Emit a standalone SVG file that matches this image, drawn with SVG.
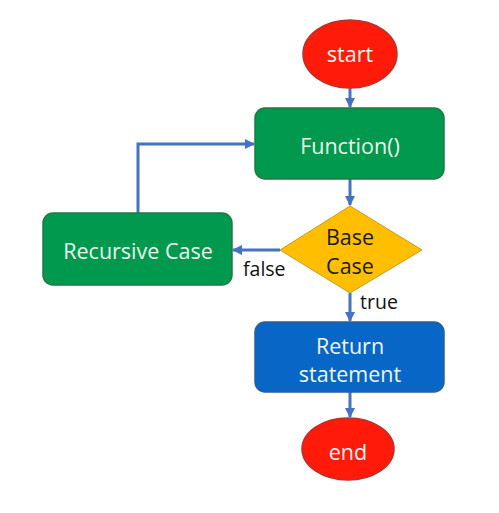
<svg xmlns="http://www.w3.org/2000/svg" width="499" height="513" viewBox="0 0 499 513">
<style>
.t{font-family:"Open Sans","Liberation Sans",sans-serif;font-size:21.5px;fill:#eef7ee;text-anchor:middle;dominant-baseline:central}
.l{font-family:"Open Sans","Liberation Sans",sans-serif;font-size:19.5px;fill:#111;}
.oval{fill:#ff1a0a;stroke:#b8322a;stroke-width:1.5}
.green{fill:#00994d;stroke:#1e7a44;stroke-width:1.5}
.c{fill:none;stroke:#4472c4;stroke-width:3}
</style>
<defs>
<marker id="ah" markerWidth="10" markerHeight="10" refX="9" refY="5" orient="auto" markerUnits="userSpaceOnUse" viewBox="0 0 10 10">
<path d="M0,0 L10,5 L0,10 Z" fill="#4472c4"/>
</marker>
</defs>
<rect width="499" height="513" fill="#fff"/>
<g id="connectors">
<path class="c" d="M350,88 L350,107" marker-end="url(#ah)"/>
<path class="c" d="M350,179 L350,205" marker-end="url(#ah)"/>
<path class="c" d="M280,250 L233,250" marker-end="url(#ah)"/>
<path class="c" d="M138,213 L138,144 L254,144" marker-end="url(#ah)"/>
<path class="c" d="M350,293 L350,321" marker-end="url(#ah)"/>
<path class="c" d="M350,392 L350,417" marker-end="url(#ah)"/>
<text class="l" x="243" y="276">false</text>
<text class="l" x="360" y="309">true</text>
</g>
<g id="start">
<ellipse class="oval" cx="350" cy="54" rx="47" ry="34"/>
<text class="t" x="350" y="53">start</text>
</g>
<g id="function">
<rect class="green" x="255" y="108" width="189" height="71" rx="10"/>
<text class="t" x="350" y="145">Function()</text>
</g>
<g id="base-case">
<polygon points="350,206 422,250 350,293 280,250" fill="#ffbf00" stroke="#c99a20" stroke-width="1"/>
<text class="t" x="350" y="236" style="fill:#1a1a1a">Base</text>
<text class="t" x="350" y="265" style="fill:#1a1a1a">Case</text>
</g>
<g id="recursive-case">
<rect class="green" x="43" y="213" width="189" height="72" rx="10"/>
<text class="t" x="138" y="250">Recursive Case</text>
</g>
<g id="return">
<rect x="255" y="322" width="189" height="70" rx="10" fill="#0866c6" stroke="#2a5e9a" stroke-width="1.5"/>
<text class="t" x="350" y="345">Return</text>
<text class="t" x="350" y="373">statement</text>
</g>
<g id="end">
<ellipse class="oval" cx="348" cy="449" rx="46" ry="31"/>
<text class="t" x="348" y="451">end</text>
</g>
</svg>
